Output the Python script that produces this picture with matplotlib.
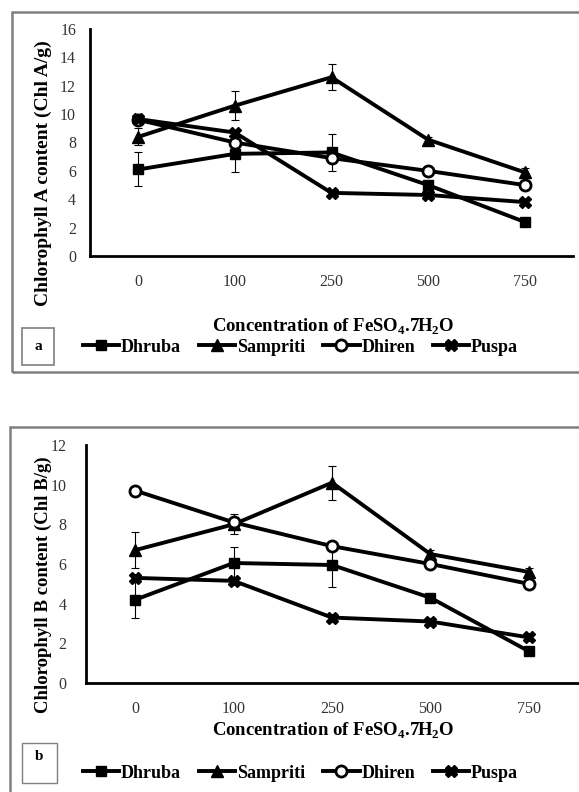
import matplotlib
matplotlib.use("Agg")
import matplotlib.pyplot as plt
from matplotlib.patches import Rectangle
import numpy as np

plt.rcParams['font.family'] = ['Liberation Serif', 'DejaVu Serif']
plt.rcParams['font.weight'] = 'bold'
plt.rcParams['mathtext.fontset'] = 'custom'
plt.rcParams['mathtext.rm'] = 'Liberation Serif:bold'
plt.rcParams['mathtext.bf'] = 'Liberation Serif:bold'

categories = ['0', '100', '250', '500', '750']
series = ['Dhruba', 'Sampriti', 'Dhiren', 'Puspa']

# Panel a: Chlorophyll A
a_dhruba = [6.1, 7.2, 7.3, 5.0, 2.4]
a_sampriti = [8.4, 10.6, 12.6, 8.2, 5.9]
a_dhiren = [9.6, 8.0, 6.9, 6.0, 5.0]
a_puspa = [9.65, 8.7, 4.45, 4.3, 3.8]
a_dhruba_err = [1.2, 1.3, 1.3, 0.2, 0.2]
a_sampriti_err = [0.6, 1.0, 0.9, 0.2, 0.3]
a_dhiren_err = [0.2, 0.2, 0.3, 0.2, 0.2]
a_puspa_err = [0.2, 0.2, 0.2, 0.2, 0.2]

# Panel b: Chlorophyll B
b_dhruba = [4.2, 6.05, 5.95, 4.3, 1.6]
b_sampriti = [6.7, 8.0, 10.1, 6.5, 5.6]
b_dhiren = [9.7, 8.1, 6.9, 6.0, 5.0]
b_puspa = [5.3, 5.15, 3.3, 3.1, 2.3]
b_dhruba_err = [0.9, 0.8, 1.1, 0.2, 0.2]
b_sampriti_err = [0.9, 0.5, 0.85, 0.2, 0.2]
b_dhiren_err = [0.2, 0.2, 0.2, 0.2, 0.2]
b_puspa_err = [0.2, 0.2, 0.2, 0.2, 0.2]

W, H = 579, 792
fig = plt.figure(figsize=(W / 100, H / 100), dpi=100)

def fx(x):
    return x / W

def fy(y):
    return 1 - y / H

def add_ax(x0, x1, ytop, ybot):
    return fig.add_axes([fx(x0), fy(ybot), fx(x1) - fx(x0), fy(ytop) - fy(ybot)])

styles = [
    dict(marker='s', markersize=7, markerfacecolor='black', markeredgecolor='black'),
    dict(marker='^', markersize=8, markerfacecolor='black', markeredgecolor='black'),
    dict(marker='o', markersize=8, markerfacecolor='white', markeredgecolor='black', markeredgewidth=2),
    dict(marker='X', markersize=8, markerfacecolor='black', markeredgecolor='black'),
]

def draw_panel(ax, data, errs, ymax):
    x = np.arange(len(categories))
    handles = []
    for name, vals, err, st in zip(series, data, errs, styles):
        ax.errorbar(x, vals, yerr=err, fmt='none', ecolor='black', elinewidth=0.8,
                    capsize=3, capthick=0.8, zorder=2)
        h, = ax.plot(x, vals, color='black', lw=2.8, label=name, zorder=3, **st)
        handles.append(h)
    ax.set_xlim(-0.5, len(categories) - 0.5)
    ax.set_ylim(0, ymax)
    ax.set_yticks(np.arange(0, ymax + 1, 2))
    ax.set_xticks(x)
    ax.set_xticklabels(categories)
    for s in ['top', 'right']:
        ax.spines[s].set_visible(False)
    for s in ['left', 'bottom']:
        ax.spines[s].set_linewidth(2)
    ax.tick_params(axis='both', length=0, labelsize=11.5)
    for lab in ax.get_xticklabels() + ax.get_yticklabels():
        lab.set_fontweight('normal')
        lab.set_color('#333333')
    return handles

# Panel a
axa = add_ax(90, 573, 29, 256)
ha = draw_panel(axa, [a_dhruba, a_sampriti, a_dhiren, a_puspa],
                [a_dhruba_err, a_sampriti_err, a_dhiren_err, a_puspa_err], 16)
axa.tick_params(axis='y', pad=10)
axa.tick_params(axis='x', pad=13)

# Panel b
axb = add_ax(86, 578, 445, 683)
hb = draw_panel(axb, [b_dhruba, b_sampriti, b_dhiren, b_puspa],
                [b_dhruba_err, b_sampriti_err, b_dhiren_err, b_puspa_err], 12)
axb.tick_params(axis='y', pad=14)
axb.tick_params(axis='x', pad=13)

# y labels
fig.text(fx(43), fy(173), 'Chlorophyll A content (Chl A/g)', rotation=90,
         ha='center', va='center', fontsize=14, fontweight='bold')
fig.text(fx(43), fy(585), 'Chlorophyll B content (Chl B/g)', rotation=90,
         ha='center', va='center', fontsize=13.5, fontweight='bold')

# x labels
xlabel = 'Concentration of FeSO$_{\\mathbf{4}}$.7H$_{\\mathbf{2}}$O'
fig.text(fx(333), fy(327), xlabel, ha='center', va='center', fontsize=13.5, fontweight='bold')
fig.text(fx(333), fy(731), xlabel, ha='center', va='center', fontsize=13.5, fontweight='bold')

# outer boxes
fig.patches.append(Rectangle((fx(12), fy(372)), fx(585) - fx(12), fy(12) - fy(372),
                             transform=fig.transFigure, fill=False,
                             edgecolor='#7f7f7f', lw=1.8, zorder=0))
fig.patches.append(Rectangle((fx(10), fy(800)), fx(585) - fx(10), fy(427) - fy(800),
                             transform=fig.transFigure, fill=False,
                             edgecolor='#7f7f7f', lw=1.8, zorder=0))
# letter boxes
fig.patches.append(Rectangle((fx(22), fy(365)), fx(54) - fx(22), fy(328) - fy(365),
                             transform=fig.transFigure, fill=False,
                             edgecolor='#7f7f7f', lw=1.2, zorder=0))
fig.patches.append(Rectangle((fx(22), fy(783)), fx(57) - fx(22), fy(743) - fy(783),
                             transform=fig.transFigure, fill=False,
                             edgecolor='#7f7f7f', lw=1.0, zorder=0))
fig.text(fx(38), fy(347), 'a', ha='center', va='center', fontsize=11, fontweight='bold')
fig.text(fx(39), fy(757), 'b', ha='center', va='center', fontsize=11, fontweight='bold')

# legends
leg_kw = dict(ncol=4, frameon=False, handlelength=2.0,
              handletextpad=0.1, columnspacing=1.0, borderaxespad=0,
              prop={'weight': 'bold', 'size': 13})
fig.legend(handles=ha, loc='center left', bbox_to_anchor=(fx(76), fy(347)), **leg_kw)
fig.legend(handles=hb, loc='center left', bbox_to_anchor=(fx(76), fy(773)), **leg_kw)

fig.savefig('out.png', dpi=100)
